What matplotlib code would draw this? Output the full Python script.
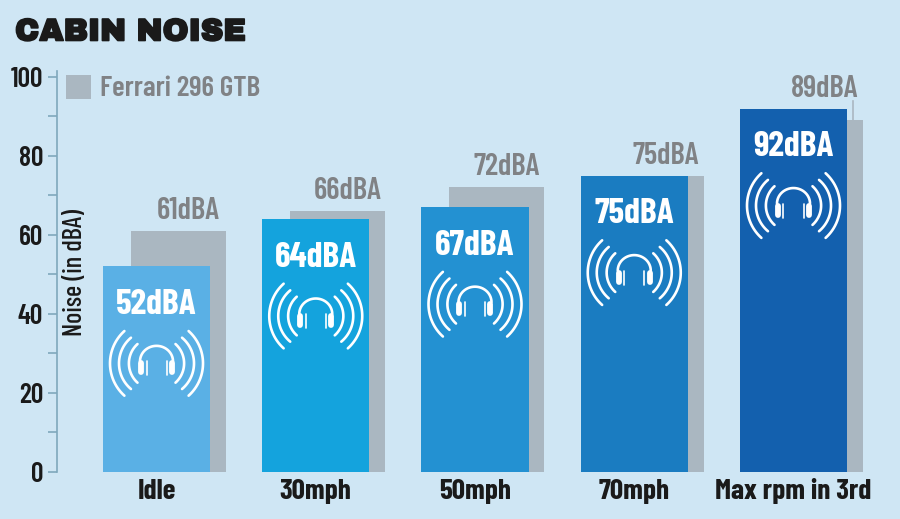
import matplotlib
matplotlib.use('Agg')
import matplotlib.pyplot as plt
import matplotlib.patheffects as pe
import numpy as np

# Data
categories = ['Idle', '30mph', '50mph', '70mph', 'Max rpm in 3rd']
car_noise = [52, 64, 67, 75, 92]
ferrari_noise = [61, 66, 72, 75, 89]
y_ticks = [0, 20, 40, 60, 80, 100]
y_minor = [10, 30, 50, 70, 90]

# Colours
bg = '#CFE6F4'
bar_colors = ['#5AB0E5', '#14A3DD', '#2391D2', '#1A7CC1', '#1360AE']
grey = '#AAB7C1'
label_grey = '#808285'
axis_color = '#7FA8BC'
ink = '#1A1A1A'
narrow = ['Barlow Condensed', 'Liberation Sans', 'DejaVu Sans']
heavy = ['Archivo Black', 'Liberation Sans', 'DejaVu Sans']

fig = plt.figure(figsize=(9, 5.19), dpi=100, facecolor=bg)

# Axes placed to match the picture, 159.25px per category and 3.945px per dBA
px_x = 1 / 159.25
px_y = 100 / 394.5
ax = fig.add_axes([57 / 900, (519 - 471.5) / 519, 843 / 900, 401 / 519])
ax.set_facecolor('none')
ax.set_xlim(-(156.5 - 57) * px_x, (900 - 156.5) * px_x)
ax.set_ylim(0, 401 * px_y)

x = np.arange(len(categories))
bar_w = 107 * px_x
grey_w = 95 * px_x
grey_shift = 22 * px_x

ax.bar(x + grey_shift, ferrari_noise, width=grey_w, color=grey, zorder=1)
ax.bar(x, car_noise, width=bar_w, color=bar_colors, zorder=2)


# Headphones with sound waves, sizes in pixels around the icon centre
def draw_icon(cx, cy):
    def line(dx, dy, lw, cap='round'):
        ax.plot(cx + np.array(dx) * px_x, cy - np.array(dy) * px_y, color='white', lw=lw,
                solid_capstyle=cap, zorder=3)

    for radius, offset, half in [(43.5, -3, 48), (33.5, -4, 50), (26, -1.6, 48)]:
        t = np.radians(np.linspace(-half, half, 40))
        for side in [-1, 1]:
            line(side * (radius * np.cos(t) - offset), radius * np.sin(t), 1.9)

    t = np.radians(np.linspace(0, 180, 40))
    line(16.5 * np.cos(t), -2 - 15.5 * np.sin(t), 1.9)
    for side in [-1, 1]:
        line([side * 15.5, side * 15.5], [0, 9], 4.2)
        line([side * 10, side * 10], [-2, 12], 1.2)


for i in x:
    ax.text(i, car_noise[i] - 38.5 * px_y, f'{car_noise[i]}dBA', color='white', fontsize=25.5,
            family=narrow, weight='bold', ha='center', va='center', zorder=4)
    draw_icon(i, car_noise[i] - 97 * px_y)
    # the last grey label sits higher, with a small leader line
    lift = 31 if i == len(x) - 1 else 20
    ax.text(i + 31.5 * px_x, ferrari_noise[i] + lift * px_y, f'{ferrari_noise[i]}dBA',
            color=label_grey, fontsize=22, family=narrow, weight='semibold', ha='center', va='center')
    ax.text(i, -20 * px_y, categories[i], color=ink, fontsize=21, family=narrow, weight='bold',
            ha='center', va='center', clip_on=False)

ax.plot([x[-1] + 59.5 * px_x] * 2, [ferrari_noise[-1], ferrari_noise[-1] + 19 * px_y],
        color=grey, lw=1.2, zorder=1)

# Axis
for side in ['top', 'right', 'bottom']:
    ax.spines[side].set_visible(False)
ax.spines['left'].set_color(axis_color)
ax.spines['left'].set_linewidth(1.2)
ax.set_xticks([])
ax.set_yticks(y_ticks)
ax.set_yticks(y_minor, minor=True)
ax.tick_params(axis='y', which='both', length=6.5, width=1.2, color=axis_color, pad=3.5)
ax.set_yticklabels(y_ticks, fontsize=20, family=narrow, weight='semibold', color=ink)
fig.text(75 / 900, 1 - 272 / 519, 'Noise (in dBA)', rotation=90, fontsize=19,
         family=narrow, weight='medium', color=ink, ha='center', va='center')

# Legend
ax.bar(-78 * px_x, 24 * px_y, width=25 * px_x, bottom=(471.5 - 99) * px_y, color=grey)
ax.text((100 - 156.5) * px_x, (471.5 - 88) * px_y, 'Ferrari 296 GTB', color=label_grey, fontsize=21,
        family=narrow, weight='semibold', ha='left', va='center')

# Title
fig.text(15 / 900, 1 - 32 / 519, 'CABIN NOISE', fontsize=22.5, family=heavy, weight='bold', color=ink,
         ha='left', va='center', path_effects=[pe.withStroke(linewidth=1.2, foreground=ink)])

fig.savefig('out.png', dpi=100, facecolor=bg)
